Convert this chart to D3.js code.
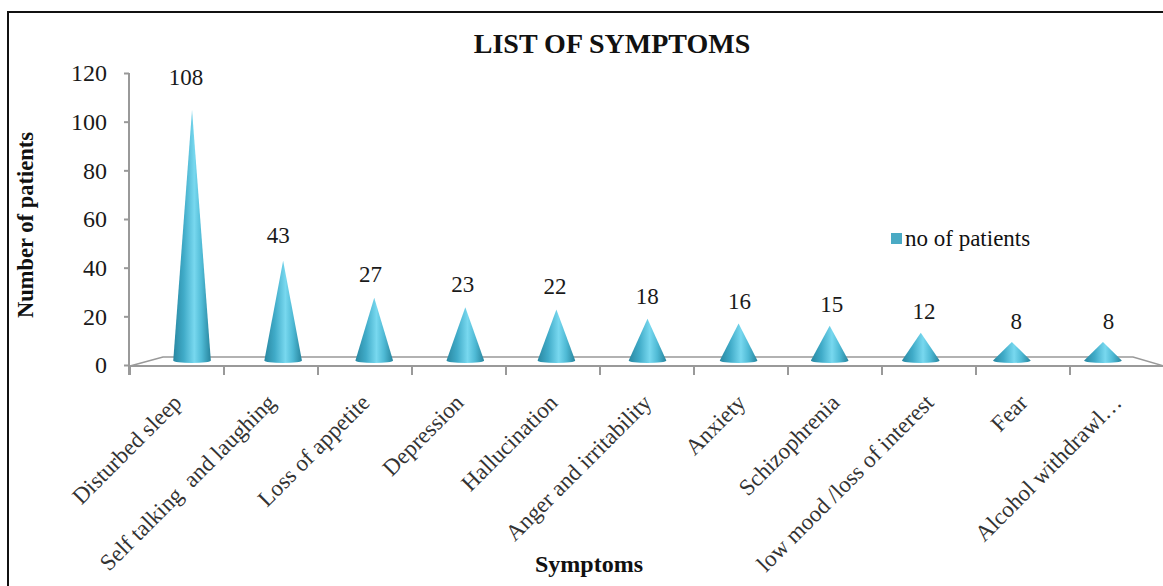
<!DOCTYPE html>
<html>
<head>
<meta charset="utf-8">
<script src="https://cdn.jsdelivr.net/npm/d3@7"></script>
<style>
  html, body { margin: 0; padding: 0; background: #fff; }
  svg { display: block; }
  text { font-family: "Liberation Serif", "Times New Roman", serif; }
</style>
</head>
<body>
<script>
// Symptom counts
const categories = [
  "Disturbed sleep",
  "Self talking  and laughing",
  "Loss of appetite",
  "Depression",
  "Hallucination",
  "Anger and irritability",
  "Anxiety",
  "Schizophrenia",
  "low mood /loss of interest",
  "Fear",
  "Alcohol withdrawl\u2026"
];
const patients = [108, 43, 27, 23, 22, 18, 16, 15, 12, 8, 8];
const yTicks = [0, 20, 40, 60, 80, 100, 120];
const seriesName = "no of patients";

const W = 1163, H = 586;
const svg = d3.select("body").append("svg").attr("width", W).attr("height", H);

// Pseudo-3D layout: front and back edges of the floor
const floorFrontY = 366, floorBackY = 357;
const xFront = d3.scaleBand().domain(categories).range([130, 1164]).padding(0);
const xBack = d3.scaleBand().domain(categories).range([163, 1133]).padding(0);
const lerp = (a, b, t) => a + (b - a) * t;
const centerAt = (c, t) => lerp(xFront(c) + xFront.bandwidth() / 2, xBack(c) + xBack.bandwidth() / 2, t);

const y = d3.scaleLinear().domain([0, 120]).range([365, 73]);
const coneBase = 360.5;
const coneY = d3.scaleLinear().domain([0, 120]).range([coneBase, coneBase - 120 * 2.32]);

// Gradient for the cone surface
const defs = svg.append("defs");
const grad = defs.append("linearGradient").attr("id", "coneGrad")
  .attr("x1", "0%").attr("x2", "100%").attr("y1", "0%").attr("y2", "0%");
[["0%", "#2987a1"], ["28%", "#40abc8"], ["56%", "#78d8ef"], ["76%", "#4fbad5"], ["100%", "#27849d"]]
  .forEach(([o, c]) => grad.append("stop").attr("offset", o).attr("stop-color", c));

// Chart border
svg.append("rect").attr("x", 8).attr("y", 12).attr("width", W).attr("height", H)
  .attr("fill", "none").attr("stroke", "#111").attr("stroke-width", 2);

// Title
svg.append("text").attr("x", 612).attr("y", 53).attr("text-anchor", "middle")
  .attr("font-size", 28).attr("font-weight", "bold").attr("fill", "#111")
  .text("LIST OF SYMPTOMS");

// Floor
const axisColor = "#999";
const first = categories[0], last = categories[categories.length - 1];
svg.append("path")
  .attr("d", `M${xFront(first)},${floorFrontY} L${xBack(first)},${floorBackY} L${xBack(last) + xBack.bandwidth()},${floorBackY} L${xFront(last) + xFront.bandwidth()},${floorFrontY}`)
  .attr("fill", "none").attr("stroke", axisColor).attr("stroke-width", 1.6);

// Y axis
const yAxisG = svg.append("g").attr("transform", "translate(129,0)")
  .call(d3.axisLeft(y).tickValues(yTicks).tickSize(5).tickPadding(17));
yAxisG.select(".domain").attr("stroke", axisColor).attr("stroke-width", 2)
  .attr("d", `M0,${y(120)}V${floorFrontY + 9}`);
yAxisG.selectAll(".tick line").attr("stroke", axisColor).attr("stroke-width", 2);
yAxisG.selectAll(".tick text").attr("font-size", 24).attr("fill", "#1a1a1a")
  .attr("font-family", "Liberation Serif");

// X axis front line and ticks
svg.append("line").attr("x1", 129).attr("x2", W).attr("y1", floorFrontY).attr("y2", floorFrontY)
  .attr("stroke", axisColor).attr("stroke-width", 2);
svg.append("g").selectAll("line").data(categories).join("line")
  .attr("x1", d => xFront(d)).attr("x2", d => xFront(d))
  .attr("y1", floorFrontY).attr("y2", floorFrontY + 9)
  .attr("stroke", axisColor).attr("stroke-width", 2);

// Cones
const rx = xFront.bandwidth() * 0.2, ry = 2.5;
svg.append("g").selectAll("path").data(categories).join("path")
  .attr("d", (c, i) => {
    const cx = centerAt(c, 0.5), top = coneY(patients[i]);
    return `M${cx},${top} L${cx - rx},${coneBase} A${rx},${ry} 0 0 0 ${cx + rx},${coneBase} Z`;
  })
  .attr("fill", "url(#coneGrad)");

// Value labels
svg.append("g").selectAll("text").data(categories).join("text")
  .attr("x", c => centerAt(c, 0.3))
  .attr("y", (c, i) => y(patients[i]) - 17)
  .attr("text-anchor", "middle").attr("font-size", 23).attr("fill", "#1a1a1a")
  .text((c, i) => patients[i]);

// Category labels, rotated
svg.append("g").selectAll("text").data(categories).join("text")
  .attr("transform", c => `translate(${xFront(c) + xFront.bandwidth() / 2 + 6},${floorFrontY + 38}) rotate(-45)`)
  .attr("text-anchor", "end").attr("font-size", 23).attr("fill", "#333")
  .style("white-space", "pre")
  .text(c => c);

// Axis titles
svg.append("text").attr("transform", "translate(33,225) rotate(-90)")
  .attr("text-anchor", "middle").attr("font-size", 22.5).attr("font-weight", "bold").attr("fill", "#111")
  .text("Number of patients");
svg.append("text").attr("x", 589).attr("y", 572).attr("text-anchor", "middle")
  .attr("font-size", 24).attr("font-weight", "bold").attr("fill", "#111")
  .text("Symptoms");

// Legend
const legend = svg.append("g").attr("transform", "translate(891,233)");
legend.append("rect").attr("width", 11).attr("height", 11).attr("fill", "#4aaac4");
legend.append("text").attr("x", 14).attr("y", 13).attr("font-size", 23).attr("fill", "#111")
  .text(seriesName);
</script>
</body>
</html>
